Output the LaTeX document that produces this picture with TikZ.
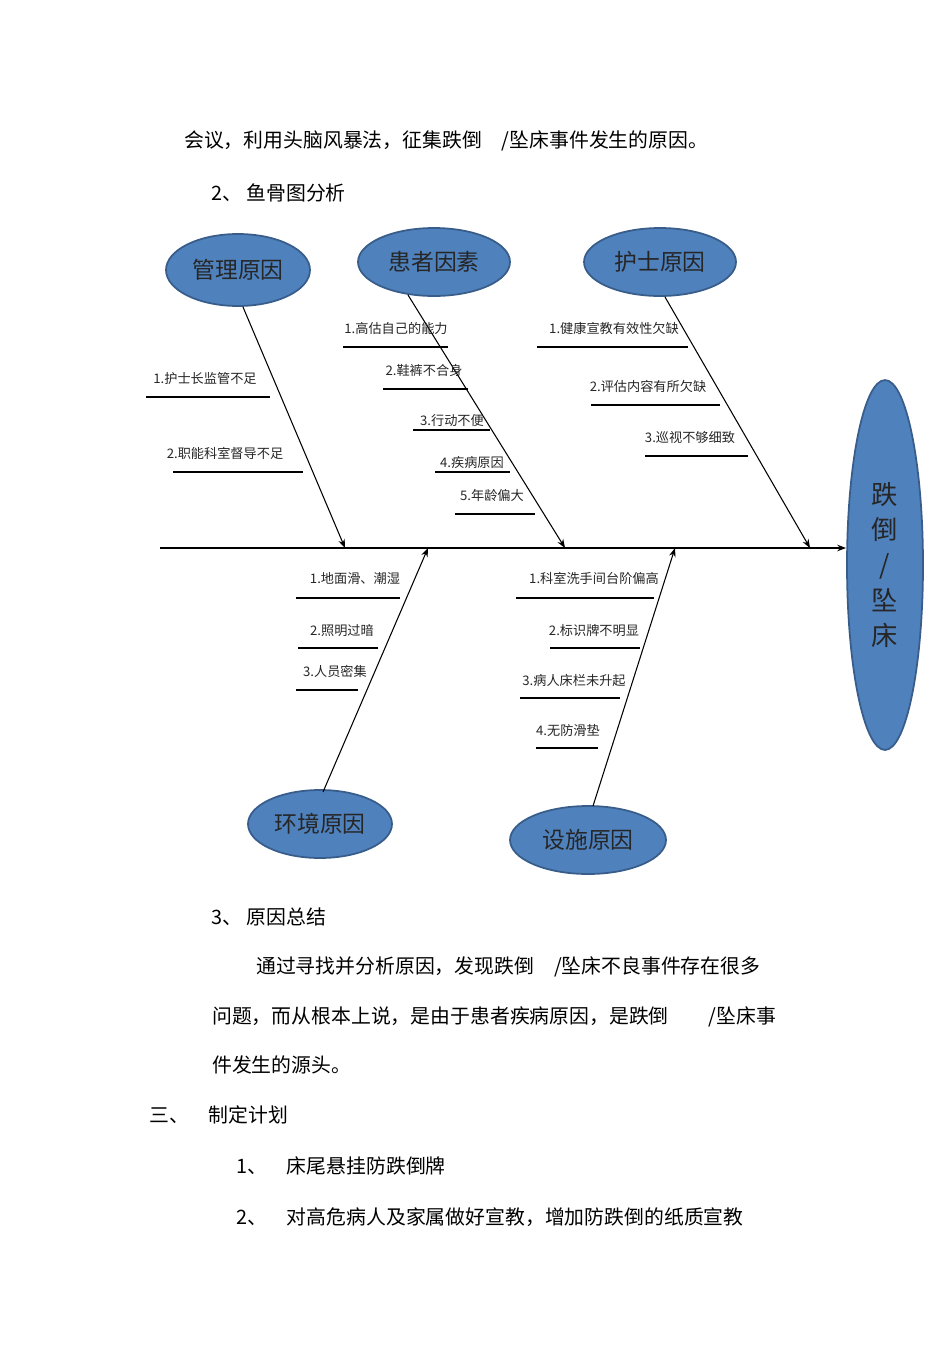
\documentclass[tikz,border=0pt]{standalone}
\usepackage{fontspec}
\setmainfont{Noto Sans CJK SC}
\usetikzlibrary{shapes.geometric,arrows.meta}
\begin{document}
\begin{tikzpicture}[x=0.02cm,y=-0.02cm,
  cause/.style={ellipse,draw={rgb,255:red,56;green,93;blue,138},line width=1pt,fill={rgb,255:red,79;green,129;blue,189},inner sep=0pt,font=\fontsize{13pt}{13pt}\selectfont,text=black!85},
  lbl/.style={font=\fontsize{7.5pt}{8pt}\selectfont,anchor=base,text=black!85},
  body/.style={font=\fontsize{11.3pt}{12pt}\selectfont,anchor=base west},
  ul/.style={line width=0.6pt},
  bone/.style={line width=0.6pt,-{Stealth[length=5pt]}}]
\useasboundingbox (0,0) rectangle (950,1345);
\node[body] (t1) at (178,148) {会议，利用头脑风暴法，征集跌倒　/坠床事件发生的原因。};
\node[body] (t2) at (205,200) {2、 鱼骨图分析};
\node[cause,minimum width=2.88cm,minimum height=1.44cm] (m) at (238,270) {管理原因};
\node[cause,minimum width=3.04cm,minimum height=1.36cm] (p) at (434,262) {患者因素};
\node[cause,minimum width=3.04cm,minimum height=1.36cm] (n) at (660,262) {护士原因};
\node[cause,minimum width=2.88cm,minimum height=1.36cm] (e) at (320,824) {环境原因};
\node[cause,minimum width=3.12cm,minimum height=1.36cm] (f) at (588,840) {设施原因};
\node[cause,minimum width=1.52cm,minimum height=7.4cm,align=center,font=\fontsize{15pt}{20pt}\selectfont] (h) at (885,565) {跌\\倒\\/\\坠\\床};
\coordinate (s0) at (160,548);
\coordinate (s1) at (846,548);
\draw[bone] (s0) -- (s1);
\coordinate (a1) at (345,548); \coordinate (a2) at (565,548); \coordinate (a3) at (810,548);
\coordinate (b1) at (428,548); \coordinate (b2) at (675,548);
\coordinate (m0) at (243,307); \coordinate (p0) at (408,295); \coordinate (n0) at (665,297);
\coordinate (e0) at (323,792); \coordinate (f0) at (593,806);
\draw[bone] (m0) -- (a1);
\draw[bone] (p0) -- (a2);
\draw[bone] (n0) -- (a3);
\draw[bone] (e0) -- (b1);
\draw[bone] (f0) -- (b2);
\foreach \t/\x/\y/\l/\r/\u in {
 1.护士长监管不足/205/383/146/270/397,
 2.职能科室督导不足/225/458/173/303/472,
 1.高估自己的能力/396/333/343/448/347,
 2.鞋裤不合身/424/375/383/468/389,
 3.行动不便/452/425/413/490/430,
 4.疾病原因/472/467/435/510/472,
 5.年龄偏大/492/500/455/535/514,
 1.健康宣教有效性欠缺/614/333/537/688/347,
 2.评估内容有所欠缺/648/391/591/720/405,
 3.巡视不够细致/690/442/645/748/456,
 1.地面滑、潮湿/355/583/296/400/598,
 2.照明过暗/342/635/298/378/648,
 3.人员密集/335/676/296/358/690,
 1.科室洗手间台阶偏高/594/583/516/654/598,
 2.标识牌不明显/594/635/550/640/648,
 3.病人床栏未升起/574/685/520/620/698,
 4.无防滑垫/568/735/536/598/748}
 {\node[lbl] (L\x\y) at (\x,\y) {\t}; \draw[ul] (\l,\u) -- (\r,\u);}
\node[body] (t3) at (205,924) {3、 原因总结};
\node[body] (t4) at (250,973) {通过寻找并分析原因，发现跌倒　/坠床不良事件存在很多};
\node[body] (t5) at (206,1023) {问题，而从根本上说，是由于患者疾病原因，是跌倒　　/坠床事};
\node[body] (t6) at (206,1072) {件发生的源头。};
\node[body] (t7) at (143,1122) {三、　制定计划};
\node[body] (t8) at (230,1173) {1、　床尾悬挂防跌倒牌};
\node[body] (t9) at (230,1224) {2、　对高危病人及家属做好宣教，增加防跌倒的纸质宣教};
\end{tikzpicture}
\end{document}
